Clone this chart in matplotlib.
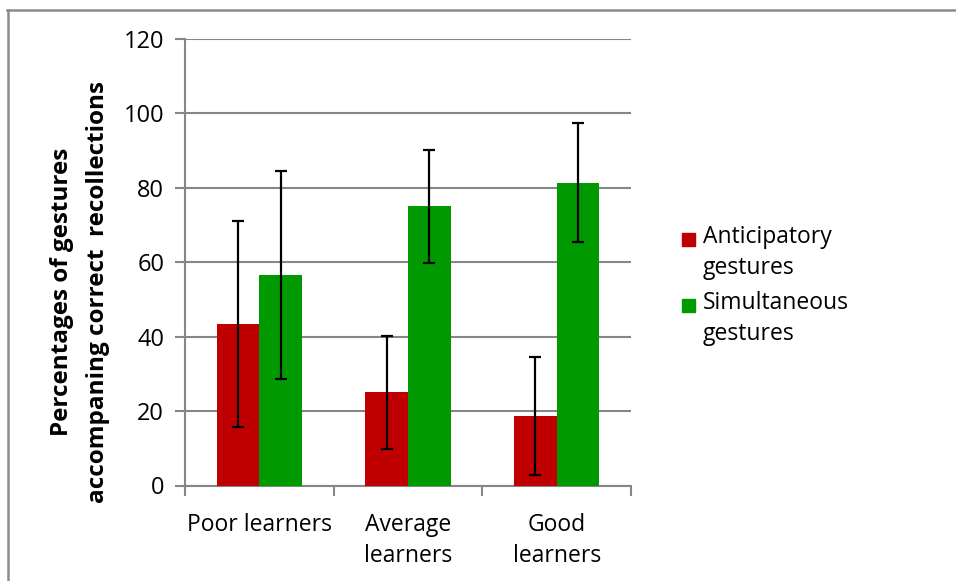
import matplotlib
matplotlib.use("Agg")
import matplotlib.pyplot as plt
from matplotlib.patches import Rectangle
from matplotlib.lines import Line2D
import numpy as np

categories = ["Poor learners", "Average\nlearners", "Good\nlearners"]
series_names = ["Anticipatory\ngestures", "Simultaneous\ngestures"]
anticipatory = [43.4, 25.0, 18.6]
simultaneous = [56.6, 75.0, 81.4]
anticipatory_err = [27.8, 15.3, 15.9]
simultaneous_err = [27.9, 15.3, 15.9]
yticks = [0, 20, 40, 60, 80, 100, 120]
ylabel = "Percentages of gestures\naccompaning correct  recollections"

colors = ["#C00000", "#009900"]
grid_color = "#868686"
FONT = ["Open Sans", "DejaVu Sans"]
plt.rcParams["font.family"] = FONT

fig = plt.figure(figsize=(9.56, 5.81), dpi=100)
ax = fig.add_axes([185/956, 1-485.5/581, (631-185)/956, (485.5-39)/581])

x = np.arange(len(categories))
w = 0.286
ax.bar(x - w/2, anticipatory, w, color=colors[0], zorder=3)
ax.bar(x + w/2, simultaneous, w, color=colors[1], zorder=3)
ek = dict(ecolor="black", elinewidth=1.6, capsize=4.5, capthick=1.6, fmt="none", zorder=4)
ax.errorbar(x - w/2, anticipatory, yerr=anticipatory_err, **ek)
ax.errorbar(x + w/2, simultaneous, yerr=simultaneous_err, **ek)

ax.set_xlim(-0.5, len(categories) - 0.5)
ax.set_ylim(0, 120)
ax.set_yticks(yticks)
ax.set_yticklabels([str(t) for t in yticks], fontsize=17)
ax.yaxis.grid(True, color=grid_color, linewidth=1.5, zorder=0)
ax.set_axisbelow(True)
ax.set_xticks(x)
ax.set_xticklabels(categories, fontsize=16.5, linespacing=1.4)
ax.tick_params(axis="x", which="major", length=0, pad=20)
ax.set_xticks(np.arange(len(categories) + 1) - 0.5, minor=True)
ax.tick_params(axis="x", which="minor", length=7, width=1.5, color=grid_color)
ax.tick_params(axis="y", length=7, width=1.5, color=grid_color, pad=8)
for s in ["top", "right"]:
    ax.spines[s].set_visible(False)
for s in ["left", "bottom"]:
    ax.spines[s].set_color(grid_color)
    ax.spines[s].set_linewidth(1.5)

fig.text(80/956, 1-292/581, ylabel, rotation=90, ha="center", va="center",
         fontsize=17.5, fontweight="bold", linespacing=1.65)

# legend
leg_x = 682/956
leg_ys = [1-239/581, 1-305/581]
sq_w, sq_h = 13/956, 13/581
for c, name, ly in zip(colors, series_names, leg_ys):
    fig.add_artist(Rectangle((leg_x, ly - sq_h/2), sq_w, sq_h, color=c,
                             transform=fig.transFigure))
    fig.text(703/956, ly + 14/581, name, ha="left", va="top", fontsize=16.5,
             linespacing=1.4)

# outer frame (top and left only visible)
fig.add_artist(Line2D([7/956, 1], [1-9.5/581, 1-9.5/581], color="#8c8c8c", lw=1.8,
                      transform=fig.transFigure))
fig.add_artist(Line2D([7.5/956, 7.5/956], [0, 1-9.5/581], color="#8c8c8c", lw=1.8,
                      transform=fig.transFigure))

fig.savefig("out.png", dpi=100)
